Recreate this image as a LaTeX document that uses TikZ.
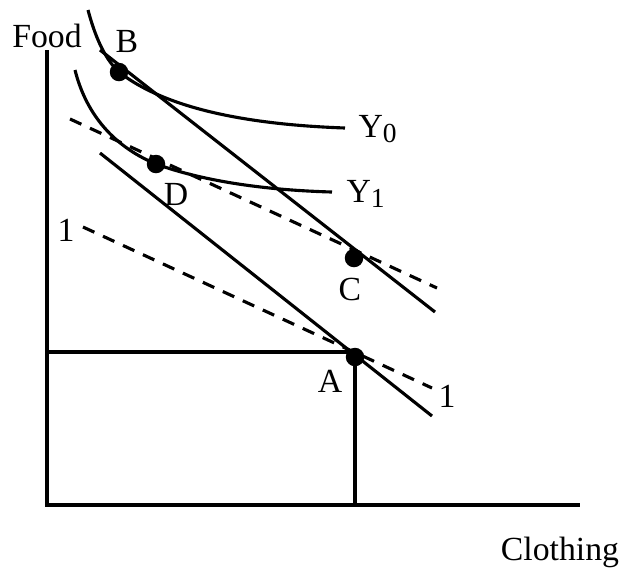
\documentclass[tikz,border=0pt]{standalone}
\usepackage{fontspec}
\setmainfont{Liberation Serif}
\usetikzlibrary{positioning, calc}

\begin{document}
\begin{tikzpicture}[x=0.4pt, y=-0.4pt, line width=1.25pt,
    dot/.style={circle, fill=black, inner sep=0pt, minimum size=7.4pt},
    lbl/.style={font=\fontsize{13.5}{16}\selectfont, inner sep=0pt},
    dsh/.style={dash pattern=on 5pt off 3.8pt}]
            \useasboundingbox (0,0) rectangle (619,575);

            % axes
            \coordinate (o) at (47,505);
            \coordinate (ytop) at (47,50);
            \coordinate (xend) at (580,505);
            \draw (ytop) -- (o) -- (xend);
            \node[lbl] (food) at (47,36) {Food};
            \node[lbl] (cloth) at (560,552) {Clothing};

            % points
            \node[dot] (A) at (355,357) {};
            \node[dot] (B) at (119,72) {};
            \node[dot] (C) at (354,258) {};
            \node[dot] (D) at (156,164) {};
            \node[lbl] (la) at (330,381) {A};
            \node[lbl] (lb) at (127,41) {B};
            \node[lbl] (lc) at (350,289) {C};
            \node[lbl] (ld) at (176,194) {D};

            % budget lines
            \coordinate (b0s) at (100,50);
            \coordinate (b0e) at (435,312);
            \coordinate (b1s) at (100,153);
            \coordinate (b1e) at (432,416);
            \draw (b0s) -- (b0e);
            \draw (b1s) -- (b1e);
            \coordinate (d0s) at (70,119);
            \coordinate (d0e) at (437,288);
            \coordinate (d1s) at (83,227);
            \coordinate (d1e) at (432,388);
            \draw[dsh] (d0s) -- (d0e);
            \draw[dsh] (d1s) -- (d1e);
            \node[lbl] (one1) at (66,230) {1};
            \node[lbl] (one2) at (447,396) {1};

            % indifference curves
            \coordinate (y0s) at (88,10);
            \coordinate (y0e) at (345,128);
            \coordinate (y1s) at (75,70);
            \coordinate (y1e) at (332,192);
            \draw (y0s) .. controls (96,40) and (106,60) .. (B.center)
                  .. controls (170,112) and (260,125) .. (y0e);
            \draw (y1s) .. controls (85,110) and (110,145) .. (D.center)
                  .. controls (200,180) and (260,190) .. (y1e);
            \node[lbl, anchor=west] (y0) at (357,129) {Y\raisebox{-0.3ex}{\fontsize{11}{12}\selectfont 0}};
            \node[lbl, anchor=west] (y1) at (345,194) {Y\raisebox{-0.3ex}{\fontsize{11}{12}\selectfont 1}};

            % endowment
            \coordinate (ea) at (355,352);
            \coordinate (ey) at (47,352);
            \coordinate (ex) at (355,505);
            \draw (ey) -- (ea) -- (ex);
        \end{tikzpicture}
\end{document}
